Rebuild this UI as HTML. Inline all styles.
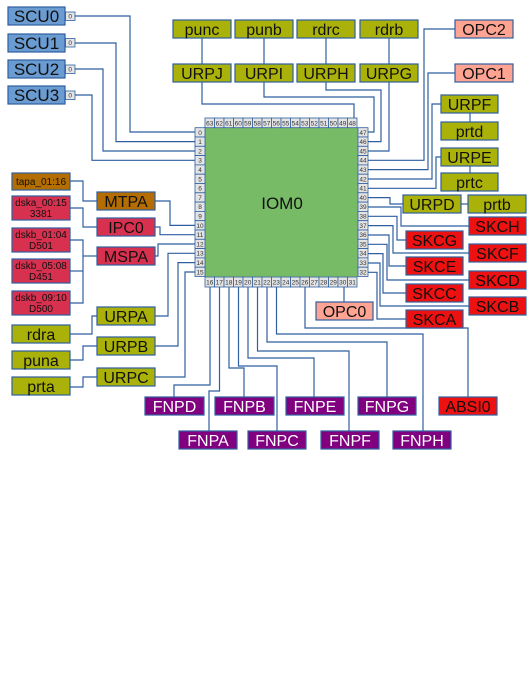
<!DOCTYPE html>
<html><head><meta charset="utf-8"><style>
html,body{margin:0;padding:0;background:#fff;}
svg{display:block;font-family:"Liberation Sans",sans-serif;}
</style></head><body>
<svg width="528" height="683" viewBox="0 0 528 683" xmlns="http://www.w3.org/2000/svg">
<g fill="none" stroke="#2f5fa0" stroke-width="1.2">
<!-- SCU lines -->
<polyline points="75,16 130,16 130,132 195,132"/>
<polyline points="75,43 116,43 116,141.6 195,141.6"/>
<polyline points="75,69 103,69 103,151 195,151"/>
<polyline points="75,95 92,95 92,160.3 195,160.3"/>
<!-- top -->
<line x1="202" y1="38" x2="202" y2="64"/>
<line x1="264" y1="38" x2="264" y2="64"/>
<line x1="326" y1="38" x2="326" y2="64"/>
<line x1="389" y1="38" x2="389" y2="64"/>
<polyline points="202,82 202,104 354,104 354,118"/>
<polyline points="264,82 264,97 374,97 374,132 368,132"/>
<polyline points="326,82 326,90 381,90 381,141.6 368,141.6"/>
<polyline points="389,82 389,151 368,151"/>
<polyline points="455,29 424,29 424,160.3 368,160.3"/>
<polyline points="455,73 428,73 428,169.6 368,169.6"/>
<polyline points="441,104 432,104 432,179 368,179"/>
<polyline points="441,157 436,157 436,188.3 368,188.3"/>
<line x1="470" y1="113" x2="470" y2="122"/>
<line x1="470" y1="166" x2="470" y2="173"/>
<line x1="461" y1="204" x2="468" y2="204"/>
<polyline points="368,197.6 390,197.6 390,204 403,204"/>
<polyline points="368,207 401,207 401,226 469,226"/>
<polyline points="368,216.3 397,216.3 397,240 406,240"/>
<polyline points="368,225.6 393,225.6 393,253 469,253"/>
<polyline points="368,235 389,235 389,266 406,266"/>
<polyline points="368,244.3 387,244.3 387,280 469,280"/>
<polyline points="368,253.6 383,253.6 383,293 406,293"/>
<polyline points="368,263 380,263 380,306 469,306"/>
<polyline points="368,272.3 377,272.3 377,319 406,319"/>
<!-- bottom -->
<polyline points="210,287 210,385 174,385 174,397"/>
<polyline points="219.5,287 219.5,391 209,391 209,431"/>
<polyline points="229,287 229,368 244,368 244,397"/>
<polyline points="238.5,287 238.5,366 277,366 277,431"/>
<polyline points="248,287 248,358 314,358 314,397"/>
<polyline points="257.5,287 257.5,351 349,351 349,431"/>
<polyline points="267,287 267,342 387,342 387,397"/>
<polyline points="276.5,287 276.5,334 423,334 423,431"/>
<polyline points="305,287 305,328 468,328 468,397"/>
<line x1="344" y1="287" x2="344" y2="302"/>
<!-- left -->
<polyline points="70,181 83,181 83,201 97,201"/>
<polyline points="70,208 83,208 83,227 97,227"/>
<polyline points="70,240 83,240 83,303 70,303"/>
<line x1="70" y1="271" x2="83" y2="271"/>
<line x1="83" y1="256" x2="97" y2="256"/>
<polyline points="70,334 92,334 92,316 97,316"/>
<polyline points="70,360 83,360 83,346 97,346"/>
<polyline points="70,387 83,387 83,377 97,377"/>
<polyline points="155,201 170,201 170,225.4 195,225.4"/>
<polyline points="155,227 160,227 160,234.7 195,234.7"/>
<polyline points="155,256 158,256 158,244 195,244"/>
<polyline points="155,316 168,316 168,253.3 195,253.3"/>
<polyline points="155,346 178,346 178,262.6 195,262.6"/>
<polyline points="155,377 185,377 185,272 195,272"/>
</g>
<!-- chip -->
<rect x="205" y="127.7" width="153" height="149" fill="#77bb66"/>
<text x="282" y="209" font-size="17" text-anchor="middle" fill="#111">IOM0</text>
<g font-size="6.5" text-anchor="middle" fill="#333">
<g fill="#e4e4e4" stroke="#2f5fa0" stroke-width="0.8">
<rect x="205" y="118" width="9.5" height="9.7"/><rect x="214.5" y="118" width="9.5" height="9.7"/><rect x="224" y="118" width="9.5" height="9.7"/><rect x="233.5" y="118" width="9.5" height="9.7"/><rect x="243" y="118" width="9.5" height="9.7"/><rect x="252.5" y="118" width="9.5" height="9.7"/><rect x="262" y="118" width="9.5" height="9.7"/><rect x="271.5" y="118" width="9.5" height="9.7"/><rect x="281" y="118" width="9.5" height="9.7"/><rect x="290.5" y="118" width="9.5" height="9.7"/><rect x="300" y="118" width="9.5" height="9.7"/><rect x="309.5" y="118" width="9.5" height="9.7"/><rect x="319" y="118" width="9.5" height="9.7"/><rect x="328.5" y="118" width="9.5" height="9.7"/><rect x="338" y="118" width="9.5" height="9.7"/><rect x="347.5" y="118" width="9.5" height="9.7"/>
<rect x="205" y="277" width="9.5" height="10"/><rect x="214.5" y="277" width="9.5" height="10"/><rect x="224" y="277" width="9.5" height="10"/><rect x="233.5" y="277" width="9.5" height="10"/><rect x="243" y="277" width="9.5" height="10"/><rect x="252.5" y="277" width="9.5" height="10"/><rect x="262" y="277" width="9.5" height="10"/><rect x="271.5" y="277" width="9.5" height="10"/><rect x="281" y="277" width="9.5" height="10"/><rect x="290.5" y="277" width="9.5" height="10"/><rect x="300" y="277" width="9.5" height="10"/><rect x="309.5" y="277" width="9.5" height="10"/><rect x="319" y="277" width="9.5" height="10"/><rect x="328.5" y="277" width="9.5" height="10"/><rect x="338" y="277" width="9.5" height="10"/><rect x="347.5" y="277" width="9.5" height="10"/>
<rect x="195" y="127.7" width="10" height="9.3"/><rect x="195" y="137" width="10" height="9.3"/><rect x="195" y="146.3" width="10" height="9.3"/><rect x="195" y="155.6" width="10" height="9.3"/><rect x="195" y="164.9" width="10" height="9.3"/><rect x="195" y="174.2" width="10" height="9.3"/><rect x="195" y="183.5" width="10" height="9.3"/><rect x="195" y="192.8" width="10" height="9.3"/><rect x="195" y="202.1" width="10" height="9.3"/><rect x="195" y="211.4" width="10" height="9.3"/><rect x="195" y="220.7" width="10" height="9.3"/><rect x="195" y="230" width="10" height="9.3"/><rect x="195" y="239.3" width="10" height="9.3"/><rect x="195" y="248.6" width="10" height="9.3"/><rect x="195" y="257.9" width="10" height="9.3"/><rect x="195" y="267.2" width="10" height="9.3"/>
<rect x="358" y="127.7" width="10" height="9.3"/><rect x="358" y="137" width="10" height="9.3"/><rect x="358" y="146.3" width="10" height="9.3"/><rect x="358" y="155.6" width="10" height="9.3"/><rect x="358" y="164.9" width="10" height="9.3"/><rect x="358" y="174.2" width="10" height="9.3"/><rect x="358" y="183.5" width="10" height="9.3"/><rect x="358" y="192.8" width="10" height="9.3"/><rect x="358" y="202.1" width="10" height="9.3"/><rect x="358" y="211.4" width="10" height="9.3"/><rect x="358" y="220.7" width="10" height="9.3"/><rect x="358" y="230" width="10" height="9.3"/><rect x="358" y="239.3" width="10" height="9.3"/><rect x="358" y="248.6" width="10" height="9.3"/><rect x="358" y="257.9" width="10" height="9.3"/><rect x="358" y="267.2" width="10" height="9.3"/>
</g>
<text x="209.7" y="125.5">63</text><text x="219.2" y="125.5">62</text><text x="228.7" y="125.5">61</text><text x="238.2" y="125.5">60</text><text x="247.7" y="125.5">59</text><text x="257.2" y="125.5">58</text><text x="266.7" y="125.5">57</text><text x="276.2" y="125.5">56</text><text x="285.7" y="125.5">55</text><text x="295.2" y="125.5">54</text><text x="304.7" y="125.5">53</text><text x="314.2" y="125.5">52</text><text x="323.7" y="125.5">51</text><text x="333.2" y="125.5">50</text><text x="342.7" y="125.5">49</text><text x="352.2" y="125.5">48</text>
<text x="209.7" y="284.5">16</text><text x="219.2" y="284.5">17</text><text x="228.7" y="284.5">18</text><text x="238.2" y="284.5">19</text><text x="247.7" y="284.5">20</text><text x="257.2" y="284.5">21</text><text x="266.7" y="284.5">22</text><text x="276.2" y="284.5">23</text><text x="285.7" y="284.5">24</text><text x="295.2" y="284.5">25</text><text x="304.7" y="284.5">26</text><text x="314.2" y="284.5">27</text><text x="323.7" y="284.5">28</text><text x="333.2" y="284.5">29</text><text x="342.7" y="284.5">30</text><text x="352.2" y="284.5">31</text>
<text x="200" y="134.8">0</text><text x="200" y="144.1">1</text><text x="200" y="153.4">2</text><text x="200" y="162.7">3</text><text x="200" y="172">4</text><text x="200" y="181.3">5</text><text x="200" y="190.6">6</text><text x="200" y="199.9">7</text><text x="200" y="209.2">8</text><text x="200" y="218.5">9</text><text x="200" y="227.8">10</text><text x="200" y="237.1">11</text><text x="200" y="246.4">12</text><text x="200" y="255.7">13</text><text x="200" y="265">14</text><text x="200" y="274.3">15</text>
<text x="363" y="134.8">47</text><text x="363" y="144.1">46</text><text x="363" y="153.4">45</text><text x="363" y="162.7">44</text><text x="363" y="172">43</text><text x="363" y="181.3">42</text><text x="363" y="190.6">41</text><text x="363" y="199.9">40</text><text x="363" y="209.2">39</text><text x="363" y="218.5">38</text><text x="363" y="227.8">37</text><text x="363" y="237.1">36</text><text x="363" y="246.4">35</text><text x="363" y="255.7">34</text><text x="363" y="265">33</text><text x="363" y="274.3">32</text>
</g>
<!-- SCU -->
<g stroke="#2f5fa0" stroke-width="1.2">
<rect x="8" y="7" width="57" height="18" fill="#6a9bd1"/>
<rect x="8" y="34" width="57" height="18" fill="#6a9bd1"/>
<rect x="8" y="60" width="57" height="18" fill="#6a9bd1"/>
<rect x="8" y="86" width="57" height="18" fill="#6a9bd1"/>
<rect x="65.5" y="12" width="9.5" height="8.5" fill="#e4e4e4" stroke-width="0.8"/>
<rect x="65.5" y="38.5" width="9.5" height="8.5" fill="#e4e4e4" stroke-width="0.8"/>
<rect x="65.5" y="65" width="9.5" height="8.5" fill="#e4e4e4" stroke-width="0.8"/>
<rect x="65.5" y="91" width="9.5" height="8.5" fill="#e4e4e4" stroke-width="0.8"/>
</g>
<g font-size="17" text-anchor="middle" fill="#111">
<text x="36.5" y="22">SCU0</text><text x="36.5" y="49">SCU1</text><text x="36.5" y="75">SCU2</text><text x="36.5" y="101">SCU3</text>
</g>
<g font-size="6.5" text-anchor="middle" fill="#333">
<text x="70.2" y="18.5">0</text><text x="70.2" y="45">0</text><text x="70.2" y="71.5">0</text><text x="70.2" y="97.5">0</text>
</g>
<!-- olive boxes -->
<g fill="#aab20a" stroke="#2f5fa0" stroke-width="1.2">
<rect x="173" y="20" width="58" height="18"/><rect x="235" y="20" width="58" height="18"/><rect x="297" y="20" width="58" height="18"/><rect x="360" y="20" width="58" height="18"/>
<rect x="173" y="64" width="58" height="18"/><rect x="235" y="64" width="58" height="18"/><rect x="297" y="64" width="58" height="18"/><rect x="360" y="64" width="58" height="18"/>
<rect x="441" y="95" width="57" height="18"/><rect x="441" y="122" width="57" height="18"/><rect x="441" y="148" width="57" height="18"/><rect x="441" y="173" width="57" height="18"/>
<rect x="403" y="195" width="58" height="18"/><rect x="468" y="195" width="58" height="18"/>
<rect x="97" y="307" width="58" height="18"/><rect x="97" y="337" width="58" height="18"/><rect x="97" y="368" width="58" height="18"/>
<rect x="12" y="325" width="58" height="18"/><rect x="12" y="351" width="58" height="18"/><rect x="12" y="377" width="58" height="18"/>
</g>
<g fill="#ffa392" stroke="#2f5fa0" stroke-width="1.2">
<rect x="455" y="20" width="58" height="18"/><rect x="455" y="64" width="58" height="18"/><rect x="316" y="302" width="57" height="18"/>
</g>
<g fill="#ee1111" stroke="#2f5fa0" stroke-width="1.2">
<rect x="469" y="217" width="57" height="18"/><rect x="406" y="231" width="57" height="18"/><rect x="469" y="244" width="57" height="18"/><rect x="406" y="257" width="57" height="18"/><rect x="469" y="271" width="57" height="18"/><rect x="406" y="284" width="57" height="18"/><rect x="469" y="297" width="57" height="18"/><rect x="406" y="310" width="57" height="18"/>
<rect x="439" y="397" width="58" height="18"/>
</g>
<g fill="#800080" stroke="#2f5fa0" stroke-width="1.2">
<rect x="145" y="397" width="59" height="18"/><rect x="215" y="397" width="59" height="18"/><rect x="286" y="397" width="58" height="18"/><rect x="358" y="397" width="58" height="18"/>
<rect x="179" y="431" width="58" height="18"/><rect x="248" y="431" width="58" height="18"/><rect x="321" y="431" width="58" height="18"/><rect x="393" y="431" width="58" height="18"/>
</g>
<g stroke="#2f5fa0" stroke-width="1.2">
<rect x="97" y="192" width="58" height="18" fill="#b36d00"/>
<rect x="97" y="218" width="58" height="18" fill="#d8304f"/>
<rect x="97" y="247" width="58" height="18" fill="#d8304f"/>
<rect x="12" y="173" width="58" height="17" fill="#b36d00"/>
<rect x="12" y="196" width="58" height="24" fill="#d8304f"/>
<rect x="12" y="228" width="58" height="24" fill="#d8304f"/>
<rect x="12" y="259" width="58" height="24" fill="#d8304f"/>
<rect x="12" y="291" width="58" height="24" fill="#d8304f"/>
</g>
<g font-size="16" text-anchor="middle" fill="#111">
<text x="202" y="35">punc</text><text x="264" y="35">punb</text><text x="326" y="35">rdrc</text><text x="389" y="35">rdrb</text>
<text x="202" y="79">URPJ</text><text x="264" y="79">URPI</text><text x="326" y="79">URPH</text><text x="389" y="79">URPG</text>
<text x="484" y="35">OPC2</text><text x="484" y="79">OPC1</text>
<text x="469.5" y="110">URPF</text><text x="469.5" y="137">prtd</text><text x="469.5" y="163">URPE</text><text x="469.5" y="188">prtc</text>
<text x="432" y="210">URPD</text><text x="497" y="210">prtb</text>
<text x="497.5" y="232">SKCH</text><text x="434.5" y="246">SKCG</text><text x="497.5" y="259">SKCF</text><text x="434.5" y="272">SKCE</text><text x="497.5" y="286">SKCD</text><text x="434.5" y="299">SKCC</text><text x="497.5" y="312">SKCB</text><text x="434.5" y="325">SKCA</text>
<text x="344.5" y="317">OPC0</text><text x="468" y="412">ABSI0</text>
<text x="126" y="207">MTPA</text><text x="126" y="233">IPC0</text><text x="126" y="262">MSPA</text>
<text x="126" y="322">URPA</text><text x="126" y="352">URPB</text><text x="126" y="383">URPC</text>
<text x="41" y="340">rdra</text><text x="41" y="366">puna</text><text x="41" y="392">prta</text>
</g>
<g font-size="16" text-anchor="middle" fill="#fff">
<text x="174.5" y="412">FNPD</text><text x="244.5" y="412">FNPB</text><text x="315" y="412">FNPE</text><text x="387" y="412">FNPG</text>
<text x="208" y="446">FNPA</text><text x="277" y="446">FNPC</text><text x="350" y="446">FNPF</text><text x="422" y="446">FNPH</text>
</g>
<g font-size="10" text-anchor="middle" fill="#111">
<text x="41" y="185">tapa_01:16</text>
<text x="41" y="206">dska_00:15</text><text x="41" y="217">3381</text>
<text x="41" y="238">dskb_01:04</text><text x="41" y="249">D501</text>
<text x="41" y="269">dskb_05:08</text><text x="41" y="280">D451</text>
<text x="41" y="301">dskb_09:10</text><text x="41" y="312">D500</text>
</g>
</svg>
</body></html>
